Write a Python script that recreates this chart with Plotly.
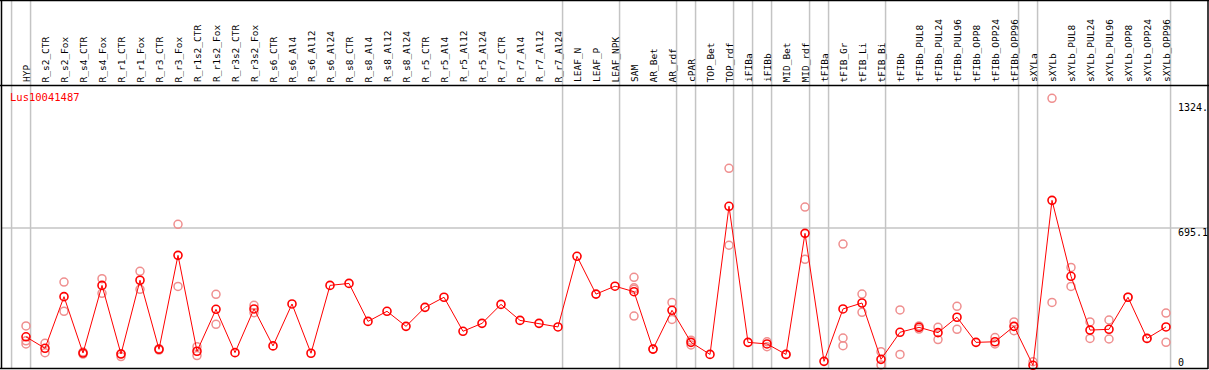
import plotly.graph_objects as go

categories = [
    "HYP", "R_s2_CTR", "R_s2_Fox", "R_s4_CTR", "R_s4_Fox", "R_r1_CTR", "R_r1_Fox",
    "R_r3_CTR", "R_r3_Fox", "R_r1s2_CTR", "R_r1s2_Fox", "R_r3s2_CTR", "R_r3s2_Fox",
    "R_s6_CTR", "R_s6_Al4", "R_s6_Al12", "R_s6_Al24", "R_s8_CTR", "R_s8_Al4",
    "R_s8_Al12", "R_s8_Al24", "R_r5_CTR", "R_r5_Al4", "R_r5_Al12", "R_r5_Al24",
    "R_r7_CTR", "R_r7_Al4", "R_r7_Al12", "R_r7_Al24", "LEAF_N", "LEAF_P", "LEAF_NPK",
    "SAM", "AR_Bet", "AR_rdf", "cPAR", "TOP_Bet", "TOP_rdf", "iFIBa", "iFIBb",
    "MID_Bet", "MID_rdf", "tFIBa", "tFIB_Gr", "tFIB_Li", "tFIB_Bi", "tFIBb",
    "tFIBb_PUL8", "tFIBb_PUL24", "tFIBb_PUL96", "tFIBb_OPP8", "tFIBb_OPP24",
    "tFIBb_OPP96", "sXYLa", "sXYLb", "sXYLb_PUL8", "sXYLb_PUL24", "sXYLb_PUL96",
    "sXYLb_OPP8", "sXYLb_OPP24", "sXYLb_OPP96",
]

mean_values = [
    145, 87, 348, 63, 405, 58, 431, 82, 557, 72, 284, 65, 286,
    99, 311, 62, 405, 415, 223, 274, 198, 294, 345, 173, 213,
    309, 228, 213, 195, 552, 361, 401,
    373, 83, 279, 117, 56, 805, 117, 109, 56, 668, 21, 286, 316, 31,
    168, 193, 166, 244, 117, 120, 198,
    1, 835, 451, 179, 183, 345, 137, 195,
]

replicates = [
    [200, 125, 109], [112, 65], [422, 274], [68, 58], [439, 365], [45, 60], [476, 385],
    [85, 78], [714, 400], [95, 50], [360, 208], [], [304, 267],
    [], [], [], [], [], [], [], [], [], [], [], [],
    [], [], [], [], [], [], [],
    [446, 393, 386, 250], [83], [319, 233], [104, 128], [], [997, 608], [], [95, 120],
    [56], [801, 537], [], [614, 139, 100], [361, 269], [70, 3], [281, 56],
    [184, 200], [193, 131], [299, 183], [], [141, 109], [220, 176],
    [19], [1351, 319], [496, 400], [220, 137], [230, 134], [345], [137], [265, 117],
]

# index of the last category in each group (gray separator follows it)
group_ends = [-1, 0, 28, 31, 34, 35, 37, 38, 39, 41, 42, 45, 52, 53, 60]

gene_name = "Lus10041487"
y_tick_vals = [1324, 695.1, 0]
y_tick_text = ["1324.", "695.1", "0"]
grid_value = 695.1

W, H = 1209, 370
n = len(categories)
xs = list(range(n))

# pixel geometry helpers
X0_PX, X_STEP = 26.0, 19.0
Y0_PX, Y_SCALE = 365.5, 0.1978
x_range = [-X0_PX / X_STEP, (W - X0_PX) / X_STEP]
y_range = [(Y0_PX - H) / Y_SCALE, Y0_PX / Y_SCALE]


def px_x(p):
    return p / W


def px_y(p):
    return 1 - p / H


rep_x, rep_y = [], []
for i, vals in enumerate(replicates):
    for v in vals:
        rep_x.append(i)
        rep_y.append(v)

fig = go.Figure()
fig.add_trace(go.Scatter(
    x=rep_x, y=rep_y, mode="markers",
    marker=dict(symbol="circle-open", size=8, color="#ef8f8f", line=dict(width=1.5)),
    hoverinfo="skip", showlegend=False,
))
fig.add_trace(go.Scatter(
    x=xs, y=mean_values, mode="lines+markers",
    line=dict(color="#ff0000", width=1),
    marker=dict(symbol="circle-open", size=8, color="#ff0000", line=dict(width=1.6)),
    showlegend=False,
))

shapes = []
gray = "#c4c4c4"
for g in group_ends:
    shapes.append(dict(type="line", xref="x", yref="paper", x0=g + 0.24, x1=g + 0.24,
                       y0=px_y(368), y1=1, line=dict(color=gray, width=1.5), layer="below"))
shapes.append(dict(type="line", xref="paper", yref="y", x0=px_x(1), x1=px_x(1208),
                   y0=grid_value, y1=grid_value, line=dict(color=gray, width=1.5), layer="below"))
black = dict(color="#000000", width=1.5)
shapes += [
    dict(type="line", xref="paper", yref="paper", x0=0, x1=1, y0=px_y(0.5), y1=px_y(0.5), line=black),
    dict(type="line", xref="paper", yref="paper", x0=0, x1=1, y0=px_y(85.5), y1=px_y(85.5), line=black),
    dict(type="line", xref="paper", yref="paper", x0=0, x1=px_x(1208), y0=px_y(368.5), y1=px_y(368.5), line=black),
    dict(type="line", xref="paper", yref="paper", x0=px_x(1.5), x1=px_x(1.5), y0=px_y(369), y1=1, line=black),
    dict(type="line", xref="paper", yref="paper", x0=px_x(1208), x1=px_x(1208), y0=px_y(369), y1=1, line=black),
]

annotations = []
mono = "DejaVu Sans Mono"
for i, c in enumerate(categories):
    annotations.append(dict(
        x=i, xref="x", y=px_y(84.5), yref="paper", text=c, textangle=-90,
        xanchor="center", yanchor="bottom", showarrow=False,
        font=dict(family=mono, size=9.5, color="#000000"),
    ))
shifts = [-4, -4, 3.5]
for v, t, s in zip(y_tick_vals, y_tick_text, shifts):
    annotations.append(dict(
        x=px_x(1176), xref="paper", y=v, yref="y", yshift=s, text=t,
        xanchor="left", yanchor="middle", showarrow=False,
        font=dict(family=mono, size=10, color="#000000"),
    ))
annotations.append(dict(
    x=px_x(7.5), xref="paper", y=px_y(97.5), yref="paper", text=gene_name,
    xanchor="left", yanchor="middle", showarrow=False,
    font=dict(family=mono, size=10.5, color="#ff0000"),
))

fig.update_layout(
    width=W, height=H, margin=dict(l=0, r=0, t=0, b=0),
    paper_bgcolor="white", plot_bgcolor="white",
    xaxis=dict(range=x_range, visible=False, fixedrange=True),
    yaxis=dict(range=y_range, visible=False, fixedrange=True),
    shapes=shapes, annotations=annotations,
)

fig.write_html(
    "out.html",
    config={"displayModeBar": False},
    post_script="document.body.style.margin='0px';document.body.style.overflow='hidden';",
)
